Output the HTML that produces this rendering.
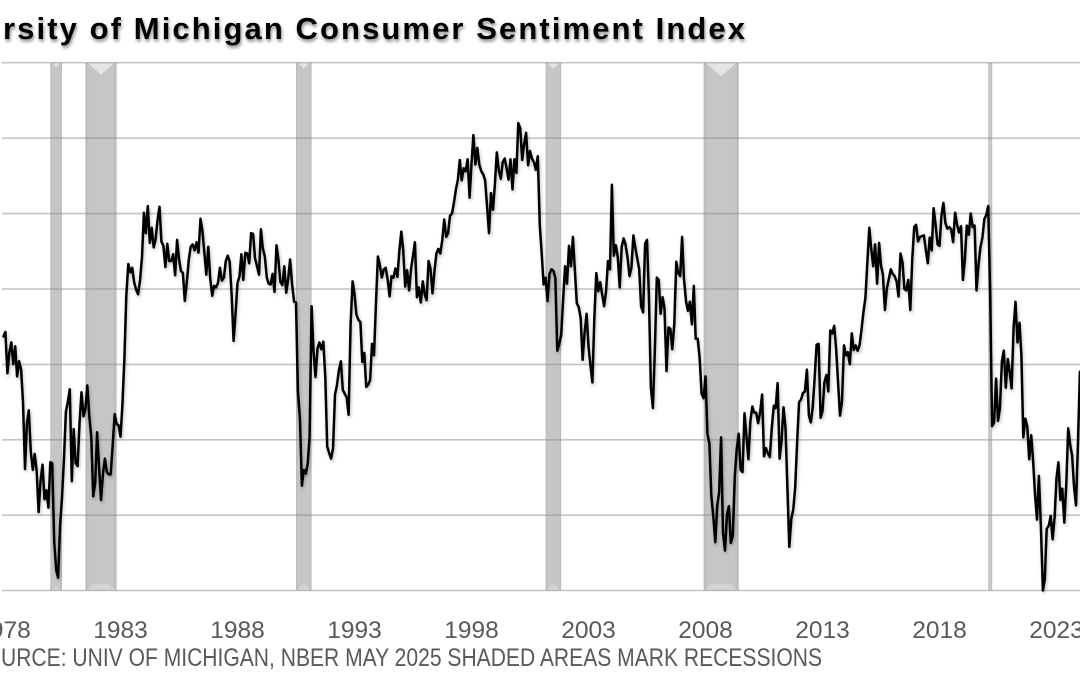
<!DOCTYPE html>
<html>
<head>
<meta charset="utf-8">
<style>
  html,body{margin:0;padding:0;background:#fff;}
  body{width:1080px;height:675px;overflow:hidden;}
  svg{display:block;}
</style>
</head>
<body>
<svg id="chart" width="1080" height="675" viewBox="0 0 1080 675" xmlns="http://www.w3.org/2000/svg">
  <defs>
    <filter id="tshadow" x="-5%" y="-30%" width="110%" height="180%">
      <feDropShadow dx="1" dy="2.5" stdDeviation="1.6" flood-color="#000" flood-opacity="0.45"/>
    </filter>
    <filter id="lshadow" x="-2%" y="-2%" width="104%" height="104%">
      <feDropShadow dx="1" dy="2" stdDeviation="1.5" flood-color="#000" flood-opacity="0.25"/>
    </filter>
    <linearGradient id="barg" x1="0" x2="1" y1="0" y2="0">
      <stop offset="0" stop-color="#b9b9b9"/>
      <stop offset="0.12" stop-color="#c6c6c6"/>
      <stop offset="0.88" stop-color="#c6c6c6"/>
      <stop offset="1" stop-color="#b9b9b9"/>
    </linearGradient>
  </defs>
  <rect x="0" y="0" width="1080" height="675" fill="#fff"/>

  <g id="bars"></g>

  <g stroke="#8a8a8a" stroke-opacity="0.5" stroke-width="1.6">
    <line x1="2" y1="62.7" x2="1080" y2="62.7"/>
    <line x1="2" y1="138.2" x2="1080" y2="138.2"/>
    <line x1="2" y1="213.6" x2="1080" y2="213.6"/>
    <line x1="2" y1="289" x2="1080" y2="289"/>
    <line x1="2" y1="364.4" x2="1080" y2="364.4"/>
    <line x1="2" y1="439.8" x2="1080" y2="439.8"/>
    <line x1="2" y1="515.2" x2="1080" y2="515.2"/>
    <line x1="2" y1="590.5" x2="1080" y2="590.5"/>
  </g>

  <polyline id="series" fill="none" stroke="#000" stroke-width="2.5" stroke-linejoin="round" stroke-linecap="round" filter="url(#lshadow)" points=""/>

  <text x="3" y="39" font-family="Liberation Sans, sans-serif" font-weight="bold" font-size="31" fill="#000" textLength="742" lengthAdjust="spacing" filter="url(#tshadow)">rsity of Michigan Consumer Sentiment Index</text>

  <g font-family="Liberation Sans, sans-serif" font-size="24.5" fill="#595959" text-anchor="middle">
    <text x="3.5" y="638">1978</text>
    <text x="120.5" y="638">1983</text>
    <text x="237.5" y="638">1988</text>
    <text x="354.5" y="638">1993</text>
    <text x="471.5" y="638">1998</text>
    <text x="588.5" y="638">2003</text>
    <text x="705.5" y="638">2008</text>
    <text x="822.5" y="638">2013</text>
    <text x="939.5" y="638">2018</text>
    <text x="1056.5" y="638">2023</text>
  </g>

  <text x="1" y="666" font-family="Liberation Sans, sans-serif" font-size="25" fill="#595959" textLength="821" lengthAdjust="spacingAndGlyphs">URCE: UNIV OF MICHIGAN, NBER MAY 2025 SHADED AREAS MARK RECESSIONS</text>
</svg>

<script>
(function(){
  var d = [
  83.7,84.3,78.8,81.6,82.9,80.0,82.4,78.4,80.4,79.3,75.0,66.1,
  72.1,73.9,68.4,66.0,68.1,65.8,60.4,64.5,66.7,62.1,63.3,61.0,
  67.0,66.9,56.5,52.7,51.7,58.7,62.3,67.3,73.7,75.0,76.7,64.5,
  71.4,66.9,66.5,72.4,76.3,73.1,74.1,77.2,73.1,70.3,62.5,64.3,
  71.0,66.5,62.0,65.5,67.5,65.7,65.4,65.4,69.3,73.4,72.1,71.9,
  70.4,74.6,80.8,89.1,93.3,92.2,92.8,90.9,89.9,89.3,91.1,94.2,
  100.1,97.4,101.0,96.1,98.1,95.5,96.6,99.1,100.9,96.3,95.7,92.9,
  96.0,93.7,93.7,94.6,91.8,96.5,94.0,92.4,92.1,88.4,90.9,93.9,
  95.6,95.9,95.1,96.2,94.8,99.3,97.7,94.9,91.9,95.6,91.4,89.1,
  90.4,90.2,90.8,92.8,91.1,91.5,93.7,94.4,93.6,89.3,83.1,86.8,
  90.8,91.6,94.6,91.2,94.8,94.7,93.4,97.4,97.3,94.1,93.0,91.9,
  97.9,95.4,94.3,91.5,90.7,90.6,92.0,89.6,95.8,93.9,90.9,90.5,
  93.0,89.5,91.3,93.9,90.6,88.3,88.2,76.4,72.8,63.9,66.0,65.5,
  66.8,70.4,87.7,81.8,78.3,82.1,82.9,82.0,83.0,78.3,69.1,68.2,
  67.5,68.8,76.0,77.2,79.2,80.4,76.6,76.1,75.6,73.3,85.3,91.0,
  89.3,86.6,85.9,85.6,80.3,81.5,77.0,77.3,77.9,82.7,81.2,88.2,
  94.3,93.2,91.5,92.6,92.8,91.2,89.0,91.7,91.5,92.7,91.6,95.1,
  97.6,95.1,90.3,92.5,89.8,92.7,94.4,96.2,88.9,90.2,88.2,91.0,
  89.3,88.5,93.7,92.7,89.4,92.4,94.7,95.3,94.7,96.5,99.2,96.9,
  97.4,99.7,100.0,101.4,103.2,104.5,107.1,104.4,106.0,105.6,107.2,102.1,
  106.6,110.4,106.5,108.7,106.5,105.6,105.2,104.4,100.9,97.4,102.7,100.5,
  103.9,108.1,105.7,104.6,106.8,107.3,106.0,104.5,107.2,103.2,107.2,105.4,
  112.0,111.3,107.1,109.2,110.7,106.4,108.3,107.3,106.8,105.8,107.6,98.4,
  94.7,90.6,91.5,88.4,92.0,92.6,92.4,91.5,81.8,82.7,83.9,88.8,
  93.0,90.7,95.7,93.0,96.9,92.4,88.1,87.6,86.1,80.6,84.2,86.7,
  82.4,79.9,77.6,86.0,92.1,89.7,90.9,89.3,87.7,89.6,93.7,92.6,
  103.8,94.4,95.8,94.2,90.2,95.6,96.7,95.9,94.2,91.7,92.8,97.1,
  95.5,94.1,92.6,87.7,86.9,96.0,96.5,89.1,76.9,74.2,81.6,91.5,
  91.2,86.7,88.9,87.4,79.1,84.9,84.7,82.0,85.4,93.6,92.1,91.7,
  96.9,91.3,88.4,87.1,88.3,85.3,90.4,83.4,83.4,80.9,76.1,75.5,
  78.4,70.8,69.5,62.6,59.8,56.4,61.2,63.0,70.3,57.6,55.3,60.1,
  61.2,56.3,57.3,65.1,68.7,70.8,66.0,65.7,73.5,70.6,67.4,72.5,
  74.4,73.6,73.6,72.2,73.6,76.0,67.8,68.9,68.2,67.7,71.6,74.5,
  74.2,77.5,67.5,69.8,74.3,71.5,63.7,55.8,59.5,60.8,63.7,69.9,
  75.0,75.3,76.2,76.4,79.3,73.2,72.3,74.3,78.3,82.6,82.7,72.9,
  73.8,77.6,78.6,76.4,84.5,84.1,85.1,82.1,77.5,73.2,75.1,82.5,
  81.2,81.6,80.0,84.1,81.9,82.5,81.8,82.5,84.6,86.9,88.8,93.6,
  98.1,95.4,93.0,95.9,90.7,96.1,93.1,91.9,87.2,90.0,91.3,92.6,
  92.0,91.7,91.0,89.0,94.7,93.5,90.0,89.8,91.2,87.2,93.8,98.2,
  98.5,96.3,96.9,97.0,97.1,95.1,93.4,96.8,95.1,100.7,98.5,95.9,
  95.7,99.7,101.4,98.8,98.0,98.2,97.9,96.2,100.1,98.6,97.5,98.3,
  91.2,93.8,98.4,97.2,100.0,98.2,98.4,89.8,93.2,95.5,96.8,99.3,
  99.8,101.0,89.1,71.8,72.3,78.1,72.5,74.1,80.4,81.8,76.9,80.7,
  79.0,76.8,84.9,88.3,82.9,85.5,81.2,70.3,72.8,71.7,67.4,70.6,
  67.2,62.8,59.4,65.2,58.4,50.0,51.5,58.2,58.6,59.9,56.8,59.7,
  64.9,67.0,62.0,63.5,59.0,64.2,71.5,69.4,67.9,63.8,61.3,69.7,
  79.0,76.9,79.4,77.2,69.1,68.2,66.4,67.9,70.1,70.5,71.8,74.0,
  71.7,64.7,57.0,52.2,52.2
  ];
  var PX = 23.4, X0 = 120.5;
  function xOf(yr){ return X0 + (yr - 1983) * PX; }
  function yOf(v){ return 590.5 - (v - 50) * 7.54; }
  var pts = [];
  for (var i = 0; i < d.length; i++) {
    pts.push(xOf(1978 + i / 12).toFixed(1) + ',' + yOf(d[i]).toFixed(1));
  }
  document.getElementById('series').setAttribute('points', pts.join(' '));

  var rec = [
    [1980 + 0/12, 1980 + 6/12],
    [1981 + 6/12, 1982 + 10/12],
    [1990 + 6/12, 1991 + 2/12],
    [2001 + 2/12, 2001 + 10/12],
    [2007 + 11/12, 2009 + 5/12],
    [2020 + 1/12, 2020 + 3/12]
  ];
  var ns = 'http://www.w3.org/2000/svg';
  var g = document.getElementById('bars');
  rec.forEach(function(r){
    var x0 = xOf(r[0]), x1 = xOf(r[1]);
    if (x1 - x0 < 4) { var c = (x0 + x1) / 2; x0 = c - 2; x1 = c + 2; }
    var w = x1 - x0;
    var rect = document.createElementNS(ns, 'rect');
    rect.setAttribute('x', x0.toFixed(1));
    rect.setAttribute('y', '62.7');
    rect.setAttribute('width', w.toFixed(1));
    rect.setAttribute('height', (590.5 - 62.7).toFixed(1));
    rect.setAttribute('fill', 'url(#barg)');
    g.appendChild(rect);
    if (w > 6) {
      var depth = w / 2.6;
      var tri = document.createElementNS(ns, 'polygon');
      tri.setAttribute('points',
        (x0 + 2).toFixed(1) + ',62.7 ' + (x1 - 2).toFixed(1) + ',62.7 ' +
        ((x0 + x1) / 2).toFixed(1) + ',' + (62.7 + depth).toFixed(1));
      tri.setAttribute('fill', '#e4e4e4');
      g.appendChild(tri);
      var h = Math.min(depth, 6);
      var tri2 = document.createElementNS(ns, 'polygon');
      tri2.setAttribute('points',
        (x0 + 1).toFixed(1) + ',590.5 ' + (x1 - 1).toFixed(1) + ',590.5 ' +
        (x1 - 1 - h).toFixed(1) + ',' + (590.5 - h).toFixed(1) + ' ' +
        (x0 + 1 + h).toFixed(1) + ',' + (590.5 - h).toFixed(1));
      tri2.setAttribute('fill', '#d6d6d6');
      g.appendChild(tri2);
    }
  });
})();
</script>
</body>
</html>
